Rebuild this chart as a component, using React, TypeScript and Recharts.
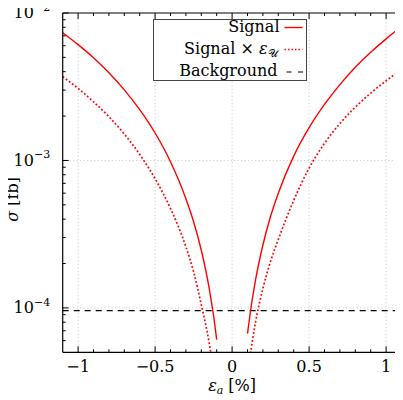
import React from "react";
import { LineChart, Line, XAxis, YAxis, ReferenceLine, Legend } from "recharts";

// curve readings, epsilon_a in %, sigma in fb (null = gap around 0)
const signalEps = [-1.1, -1.0, -0.9, -0.8, -0.7, -0.6, -0.5, -0.4, -0.3, -0.25, -0.2, -0.15, -0.12, -0.1, 0, 0.1, 0.12, 0.15, 0.2, 0.25, 0.3, 0.4, 0.5, 0.6, 0.7, 0.8, 0.9, 1.0, 1.1];
const signalSigma = [7.35e-3, 6.1e-3, 4.97e-3, 3.93e-3, 3.01e-3, 2.21e-3, 1.535e-3, 9.8e-4, 5.5e-4, 3.84e-4, 2.46e-4, 1.38e-4, 8.8e-5, 6.1e-5, null, 6.7e-5, 9.6e-5, 1.5e-4, 2.67e-4, 4.18e-4, 6.0e-4, 1.07e-3, 1.67e-3, 2.4e-3, 3.27e-3, 4.28e-3, 5.41e-3, 6.68e-3, 8.08e-3];

const signalUEps = [-1.1, -1.0, -0.9, -0.8, -0.7, -0.6, -0.5, -0.4, -0.3, -0.25, -0.2, -0.15, -0.13, 0, 0.112, 0.15, 0.2, 0.25, 0.3, 0.4, 0.5, 0.6, 0.7, 0.8, 0.9, 1.0, 1.1];
const signalUSigma = [3.7e-3, 3.08e-3, 2.5e-3, 1.98e-3, 1.51e-3, 1.1e-3, 7.52e-4, 4.72e-4, 2.6e-4, 1.76e-4, 1.05e-4, 5.9e-5, 4.4e-5, null, 4.35e-5, 7.8e-5, 1.355e-4, 2.07e-4, 2.91e-4, 5.36e-4, 8.87e-4, 1.307e-3, 1.78e-3, 2.3e-3, 2.86e-3, 3.47e-3, 4.13e-3];

const backgroundSigma = 9.6e-5;

const xMajorTicks = [-1, -0.5, 0, 0.5, 1];
const xTickLabels = ["−1", "−0.5", "0", "0.5", "1"];
const xAllTicks = [-1, -0.9, -0.8, -0.7, -0.6, -0.5, -0.4, -0.3, -0.2, -0.1, 0, 0.1, 0.2, 0.3, 0.4, 0.5, 0.6, 0.7, 0.8, 0.9, 1];

const yMajorTicks = [1e-4, 1e-3, 1e-2];
const yTickExponents = ["−4", "−3", "−2"];
const yAllTicks = [6e-5, 7e-5, 8e-5, 9e-5, 1e-4, 2e-4, 3e-4, 4e-4, 5e-4, 6e-4, 7e-4, 8e-4, 9e-4, 1e-3, 2e-3, 3e-3, 4e-3, 5e-3, 6e-3, 7e-3, 8e-3, 9e-3, 1e-2];
const yGridTicks = [1e-4, 1e-3];

const signalData = signalEps.map((eps, i) => ({ eps, sigma: signalSigma[i] }));
const signalUData = signalUEps.map((eps, i) => ({ eps, sigma: signalUSigma[i] }));

const FONT = "'DejaVu Serif', serif";
const RED = "#ff0000";
const X_DOMAIN = [-1.1, 1.1];
const Y_DOMAIN = [5e-5, 1e-2];

function YTickLeft(props: any) {
  const { x, y, payload } = props;
  const i = yMajorTicks.indexOf(payload.value);
  return (
    <g>
      <line x1={x} x2={x + (i >= 0 ? 6 : 3)} y1={y} y2={y} stroke="#000" />
      {i >= 0 && (
        <text x={x - 12.5} y={y + 5.3} textAnchor="end" fontFamily={FONT} fontSize={16} fill="#000">
          10<tspan dy={-7.6} fontSize={11}>{yTickExponents[i]}</tspan>
        </text>
      )}
    </g>
  );
}

function YTickRight(props: any) {
  const { x, y, payload } = props;
  const major = yMajorTicks.includes(payload.value);
  return <line x1={x} x2={x - (major ? 6 : 3)} y1={y} y2={y} stroke="#000" />;
}

function XTickBottom(props: any) {
  const { x, y, payload } = props;
  const i = xMajorTicks.indexOf(payload.value);
  return (
    <g>
      <line x1={x} x2={x} y1={y} y2={y - (i >= 0 ? 6 : 3)} stroke="#000" />
      {i >= 0 && (
        <text x={x} y={y + 20} textAnchor="middle" fontFamily={FONT} fontSize={16} fill="#000">
          {xTickLabels[i]}
        </text>
      )}
    </g>
  );
}

function XTickTop(props: any) {
  const { x, y, payload } = props;
  const major = xMajorTicks.includes(payload.value);
  return <line x1={x} x2={x} y1={y} y2={y + (major ? 6 : 3)} stroke="#000" />;
}

function XTitle(props: any) {
  const vb = props.viewBox || { x: 0, y: 0, width: 0 };
  return (
    <text x={vb.x + vb.width / 2} y={vb.y + 38.7} textAnchor="middle" fontFamily={FONT} fontSize={16} fill="#000">
      <tspan fontStyle="italic">ε</tspan>
      <tspan fontStyle="italic" fontSize={11} dy={3}>a</tspan>
      <tspan dy={-3}> [%]</tspan>
    </text>
  );
}

function YTitle(props: any) {
  const vb = props.viewBox || { x: 0, y: 0, height: 0 };
  const cx = vb.x + 18.3;
  const cy = vb.y + vb.height / 2 + 16.8;
  return (
    <text x={cx} y={cy} transform={`rotate(-90, ${cx}, ${cy})`} textAnchor="middle" fontFamily={FONT} fontSize={16} fill="#000">
      <tspan fontStyle="italic">σ</tspan> [fb]
    </text>
  );
}

function LegendBox() {
  return (
    <div style={{ boxSizing: "border-box", width: 154, height: 62, border: "1px solid #444", background: "#fff" }}>
      <svg width={152} height={60} style={{ display: "block", overflow: "visible" }} fontFamily={FONT} fontSize={16}>
        <text x={125.5} y={12} textAnchor="end" fill="#000">Signal</text>
        <line x1={130.5} x2={148.5} y1={7.5} y2={7.5} stroke={RED} strokeWidth={1.4} />
        <text x={123.5} y={33.5} textAnchor="end" fill="#000">
          Signal × <tspan fontStyle="italic">ε</tspan>
          <tspan fontSize={11} dy={3}>𝒰</tspan>
        </text>
        <line x1={130.5} x2={148.5} y1={29.5} y2={29.5} stroke={RED} strokeWidth={1.3} strokeDasharray="1.5 2" />
        <text x={123.5} y={55.5} textAnchor="end" fill="#000">Background</text>
        <line x1={132.5} x2={149} y1={52} y2={52} stroke="#000" strokeWidth={1.2} strokeDasharray="5 6.5" />
      </svg>
    </div>
  );
}

export default function App() {
  return (
    <div style={{ width: 403, height: 400, marginLeft: -8, marginTop: -8 }}>
      <LineChart width={403} height={400} margin={{ top: 0, right: 0, bottom: 0, left: 0 }}>
        <XAxis
          xAxisId="b"
          dataKey="eps"
          type="number"
          domain={X_DOMAIN}
          allowDataOverflow
          ticks={xAllTicks}
          interval={0}
          height={47.7}
          tickSize={0}
          tickMargin={0}
          tickLine={false}
          tick={<XTickBottom />}
          axisLine={{ stroke: "#000", strokeWidth: 1.2 }}
          label={<XTitle />}
        />
        <XAxis
          xAxisId="t"
          orientation="top"
          dataKey="eps"
          type="number"
          domain={X_DOMAIN}
          allowDataOverflow
          ticks={xAllTicks}
          interval={0}
          height={13}
          tickSize={0}
          tickMargin={0}
          tickLine={false}
          tick={<XTickTop />}
          axisLine={{ stroke: "#000", strokeWidth: 1.2 }}
        />
        <YAxis
          yAxisId="l"
          type="number"
          scale="log"
          domain={Y_DOMAIN}
          allowDataOverflow
          ticks={yAllTicks}
          interval={0}
          width={62.7}
          tickSize={0}
          tickMargin={0}
          tickLine={false}
          tick={<YTickLeft />}
          axisLine={{ stroke: "#000", strokeWidth: 1.2 }}
          label={<YTitle />}
        />
        <YAxis
          yAxisId="r"
          orientation="right"
          type="number"
          scale="log"
          domain={Y_DOMAIN}
          allowDataOverflow
          ticks={yAllTicks}
          interval={0}
          width={1.5}
          tickSize={0}
          tickMargin={0}
          tickLine={false}
          tick={<YTickRight />}
          axisLine={{ stroke: "#000", strokeWidth: 1.2 }}
        />

        {xMajorTicks.map((v) => (
          <ReferenceLine key={`gx${v}`} xAxisId="b" yAxisId="l" x={v} stroke="#c4c4c4" strokeDasharray="1 2.5" />
        ))}
        {yGridTicks.map((v) => (
          <ReferenceLine key={`gy${v}`} xAxisId="b" yAxisId="l" y={v} stroke="#c4c4c4" strokeDasharray="1 2.5" />
        ))}

        <ReferenceLine xAxisId="b" yAxisId="l" y={backgroundSigma} stroke="#000" strokeWidth={1.2} strokeDasharray="6 5" />

        <Line
          xAxisId="b"
          yAxisId="l"
          data={signalData}
          dataKey="sigma"
          type="monotone"
          stroke={RED}
          strokeWidth={1.4}
          dot={false}
          activeDot={false}
          isAnimationActive={false}
        />
        <Line
          xAxisId="b"
          yAxisId="l"
          data={signalUData}
          dataKey="sigma"
          type="monotone"
          stroke={RED}
          strokeWidth={1.7}
          strokeDasharray="1.8 2.1"
          dot={false}
          activeDot={false}
          isAnimationActive={false}
        />

        <Legend
          layout="vertical"
          align="center"
          verticalAlign="middle"
          wrapperStyle={{ top: 18.7, left: 153.3 }}
          content={() => <LegendBox />}
        />
      </LineChart>
    </div>
  );
}
